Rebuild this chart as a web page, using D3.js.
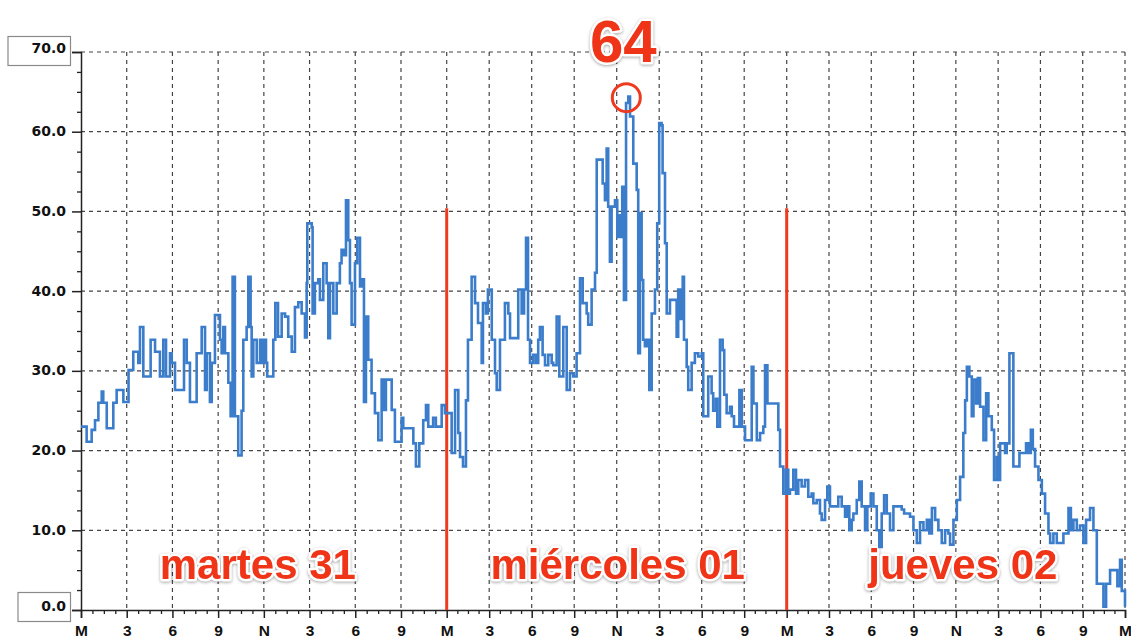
<!DOCTYPE html>
<html>
<head>
<meta charset="utf-8">
<script src="https://cdn.jsdelivr.net/npm/d3@7"></script>
<style>
  html, body { margin: 0; padding: 0; background: #fff; }
  svg { display: block; }
  .day-label, .peak-label {
    font-family: "Liberation Sans", Arial, sans-serif;
    font-weight: bold;
    fill: #ef3417;
    paint-order: stroke;
    stroke: #fff;
    stroke-width: 5px;
    stroke-linejoin: round;
    filter: drop-shadow(0px 1px 1.5px rgba(0, 0, 0, 0.35));
  }
</style>
</head>
<body>
<svg id="chart" width="1131" height="639"></svg>
<script>
// Hours since midnight of Tuesday 31
const hours = [
  0.0, 0.37, 0.70, 0.92, 1.14, 1.36, 1.46, 1.69, 1.90, 2.12, 2.34, 2.56, 2.78, 3.10, 3.12, 3.43, 3.76, 3.87,
  4.09, 4.31, 4.57, 4.86, 5.07, 5.18, 5.40, 5.58, 5.84, 5.95, 6.17, 6.50, 6.76, 6.94, 7.15, 7.37, 7.59, 7.92,
  8.14, 8.25, 8.46, 8.58, 8.79, 9.01, 9.12, 9.23, 9.34, 9.45, 9.67, 9.82, 9.95, 10.10, 10.32, 10.54, 10.65,
  10.87, 10.98, 11.13, 11.20, 11.31, 11.53, 11.75, 11.86, 12.01, 12.14, 12.22, 12.51, 12.62, 12.75, 12.93,
  13.17, 13.39, 13.60, 13.83, 14.04, 14.26, 14.48, 14.70, 14.81, 14.85, 15.14, 15.20, 15.35, 15.57, 15.68,
  15.90, 16.12, 16.23, 16.34, 16.56, 16.78, 16.99, 17.10, 17.26, 17.39, 17.54, 17.65, 17.76, 17.98, 18.13,
  18.31, 18.42, 18.57, 18.70, 18.85, 19.07, 19.29, 19.51, 19.73, 19.84, 20.01, 20.17, 20.39, 20.60, 20.89,
  21.04, 21.15, 21.70, 21.81, 21.98, 22.20, 22.46, 22.64, 22.79, 22.94, 23.11, 23.29, 23.44, 23.67, 23.88,
  24.23, 24.35, 24.59, 24.82, 24.94, 25.15, 25.36, 25.50, 25.76, 26.00, 26.21, 26.47, 26.56, 26.77, 26.91,
  27.18, 27.41, 27.53, 27.76, 28.11, 28.35, 28.47, 28.82, 29.05, 29.29, 29.46, 29.60, 29.74, 29.88, 30.11,
  30.30, 30.46, 30.58, 30.77, 30.94, 31.17, 31.41, 31.52, 31.76, 31.95, 32.23, 32.47, 32.70, 32.93, 33.17,
  33.41, 33.60, 33.88, 33.99, 34.23, 34.47, 34.59, 34.87, 35.01, 35.17, 35.29, 35.40, 35.52, 35.64, 35.88,
  36.04, 36.18, 36.28, 36.39, 36.51, 36.66, 36.82, 36.94, 37.17, 37.41, 37.52, 37.64, 37.76, 37.87, 37.99,
  38.16, 38.30, 38.47, 38.70, 38.86, 39.00, 39.17, 39.24, 39.41, 39.53, 39.76, 40.12, 40.23, 40.34, 40.51,
  40.66, 40.75, 40.94, 41.05, 41.29, 41.52, 41.76, 42.00, 42.11, 42.30, 42.46, 42.70, 42.81, 43.00, 43.10,
  43.29, 43.48, 43.59, 43.76, 44.00, 44.12, 44.28, 44.59, 44.66, 44.83, 45.06, 45.30, 45.53, 45.65, 45.89,
  46.12, 46.35, 46.47, 46.64, 47.18, 47.41, 47.53, 47.76, 47.95,
  48.11, 48.23, 48.47, 48.66, 48.82, 49.06, 49.30, 49.53, 49.77, 49.89, 50.13, 50.36, 50.48, 50.72, 50.88,
  51.07, 51.31, 51.66, 51.90, 52.14, 52.26, 52.44, 52.61, 52.73, 52.97, 53.15, 53.32, 53.56, 53.72, 53.96,
  54.15, 54.39, 54.57, 54.74, 54.91, 55.10, 55.33, 55.57, 55.92, 56.16, 56.33, 56.52, 56.75, 56.99, 57.23,
  57.46, 57.70, 57.94, 58.12, 58.30, 58.53, 58.76, 59.00, 59.24, 59.47, 59.59, 59.83, 60.07, 60.30, 60.53,
  60.66, 60.78, 60.96, 61.13, 61.25, 61.44, 61.56, 61.72, 61.96, 62.15, 62.31, 62.55, 62.71, 62.90, 63.02,
  63.14, 63.37, 63.49, 63.61, 63.80, 63.97, 64.08, 64.32, 64.51, 64.79, 64.98, 65.15, 65.32, 65.46, 65.62,
  65.86, 66.10, 66.33, 66.57, 66.69, 66.92, 67.16, 67.40, 67.63, 67.99, 68.16, 68.34, 68.58, 68.81, 69.05,
  69.24, 69.52, 69.76, 70.00, 70.28, 70.47, 70.66, 70.94, 71.29, 71.46, 71.65, 71.77, 72.00
];

// Readings at each of those hours
const values = [
  23.0, 21.1, 22.6, 23.8, 26.0, 27.4, 26.0, 22.8, 22.8, 26.0, 27.6, 27.6, 26.1, 26.1, 30.1, 32.4, 31.0, 35.5,
  29.3, 29.3, 33.9, 32.4, 32.4, 29.3, 33.9, 29.3, 32.2, 31.0, 27.6, 27.6, 33.9, 31.0, 26.1, 26.1, 32.2, 35.5,
  27.6, 32.2, 26.1, 31.0, 37.0, 37.0, 33.9, 32.2, 35.5, 32.2, 28.5, 24.3, 41.8, 24.3, 19.4, 25.0, 33.9,
  35.5, 41.8, 35.5, 29.3, 33.9, 31.0, 33.9, 31.0, 33.9, 31.0, 29.3, 29.3, 33.9, 38.5, 34.3,
  37.2, 36.8, 34.3, 32.4, 38.0, 38.6, 37.2, 34.2, 41.0, 48.5, 48.0, 37.2, 41.0, 41.5, 38.9,
  43.5, 41.0, 34.1, 41.0, 37.2, 41.0, 43.5, 45.2, 44.5, 51.4, 46.4, 41.0, 35.8, 43.5, 46.7,
  40.6, 41.5, 26.1, 36.8, 31.4, 27.2, 24.7, 21.3, 28.9, 25.1, 28.9, 28.9, 25.1, 21.1, 21.1,
  24.1, 22.8, 22.8, 20.9, 18.0, 20.9, 23.8, 25.7, 23.0, 23.0, 24.1, 23.0, 23.0, 25.7, 24.7,
  24.7, 19.7, 27.6, 22.2, 19.2, 18.0, 26.3, 33.9, 41.8, 38.5, 36.0, 31.0, 38.5, 37.2, 40.2,
  33.9, 29.7, 27.6, 33.9, 38.5, 37.2, 34.1, 34.1, 40.2, 37.2, 40.2, 46.7, 33.9, 31.0, 32.0,
  31.0, 33.9, 35.5, 32.0, 30.7, 32.0, 31.0, 30.7, 36.8, 29.3, 35.5, 27.6, 29.7, 29.3, 32.2,
  41.6, 38.5, 37.2, 35.8, 40.2, 42.3, 56.5, 56.5, 53.5, 51.4, 57.9, 50.6, 43.7, 50.6, 51.4,
  46.8, 49.5, 46.8, 53.1, 38.9, 63.6, 64.4, 61.9, 56.0, 52.7, 32.2, 49.8, 41.4, 33.9, 33.1,
  33.9, 27.6, 37.2, 40.2, 48.5, 61.1, 60.8, 54.8, 46.0, 37.2, 38.9, 38.9, 34.3, 40.2, 36.5,
  41.8, 33.9, 30.5, 27.6, 31.0, 32.2, 31.8, 32.2, 24.3, 24.3, 29.3, 27.2, 25.0, 26.5, 23.0,
  33.9, 32.6, 27.0, 24.7, 25.5, 24.3, 23.0, 23.0, 27.6, 23.0, 21.3, 21.3, 30.5, 25.9, 21.3,
  22.2, 23.0, 30.7, 25.9, 25.9, 22.6, 18.0, 14.6, 17.6,
  14.6, 15.1, 17.6, 14.6, 16.3, 15.5, 16.3, 14.2, 14.6, 13.4, 13.8, 12.1, 11.3, 13.8, 15.5,
  13.0, 13.0, 14.2, 13.0, 11.7, 13.0, 10.0, 11.3, 12.1, 13.8, 16.1, 13.0, 10.0, 13.0, 14.6,
  13.0, 10.0, 7.9, 12.1, 14.4, 12.1, 10.0, 13.0, 13.0, 12.6, 12.1, 12.1, 11.7, 10.0, 8.4,
  11.0, 10.0, 11.3, 9.6, 12.8, 11.3, 10.0, 8.4, 10.0, 9.6, 8.2, 11.3, 13.8, 16.7, 22.2,
  26.3, 30.5, 29.3, 24.3, 28.9, 25.9, 29.1, 25.5, 21.3, 27.2, 24.3, 22.6, 16.3, 19.2, 16.3,
  20.9, 20.9, 19.7, 20.9, 32.2, 32.2, 18.0, 18.0, 19.7, 19.7, 20.9, 19.7, 22.6, 20.2, 18.0,
  16.3, 14.6, 12.1, 9.6, 8.4, 9.6, 8.4, 8.4, 9.6, 12.8, 10.0, 11.3, 10.0, 10.6, 8.4,
  11.3, 12.8, 10.0, 3.3, 3.3, 0.4, 3.3, 5.0, 5.0, 3.0, 6.3, 2.4, 0.4
];

const dayBreaks = [24, 48];                       // midnight of Wednesday and Thursday
const dayLabels = ["martes 31", "miércoles 01", "jueves 02"];
const hourLabels = ["M", "3", "6", "9", "N", "3", "6", "9"];
const yTicks = [0, 10, 20, 30, 40, 50, 60, 70];
const peakText = "64";

const data = hours.map((h, i) => ({ h: h, v: values[i] }));

const svg = d3.select("#chart");

// The first day of the source picture is drawn a little wider than the others
const x = d3.scaleLinear().domain([0, 24, 48, 72]).range([81, 446.7, 786.7, 1125]);
const y = d3.scaleLinear().domain([0, 70]).range([610, 52]);

const majorX = d3.range(0, 73, 3);
const minorX = d3.range(0, 72.01, 0.75).filter((h) => h % 3 !== 0);
const minorY = d3.range(0, 70.01, 2.5).filter((v) => v % 10 !== 0);

// Dashed grid, including the top and right edges
const grid = svg.append("g")
  .attr("stroke", "#454545")
  .attr("stroke-width", 1.2)
  .attr("stroke-dasharray", "4,4");

grid.selectAll("line.h")
  .data(yTicks.filter((v) => v > 0))
  .enter()
  .append("line")
  .attr("x1", x(0))
  .attr("x2", x(72))
  .attr("y1", (v) => y(v))
  .attr("y2", (v) => y(v));

grid.selectAll("line.v")
  .data(majorX.filter((h) => h > 0))
  .enter()
  .append("line")
  .attr("x1", (h) => x(h))
  .attr("x2", (h) => x(h))
  .attr("y1", y(70))
  .attr("y2", y(0));

// Axes
const axisFont = (g) => g.selectAll("text")
  .attr("font-family", "'DejaVu Sans', Verdana, sans-serif")
  .attr("font-weight", "bold")
  .attr("fill", "#111");

const yAxis = svg.append("g")
  .attr("transform", `translate(${x(0)},0)`)
  .call(d3.axisLeft(y).tickValues(yTicks).tickSize(9).tickPadding(6).tickFormat(d3.format(".1f")))
  .call((g) => g.select(".domain").attr("stroke", "#222").attr("stroke-width", 1.5))
  .call((g) => g.selectAll(".tick line").attr("stroke", "#222").attr("stroke-width", 1.5))
  .call(axisFont)
  .call((g) => g.selectAll("text").attr("font-size", 14).attr("dy", "0.28em"));

svg.append("g")
  .attr("transform", `translate(${x(0)},0)`)
  .call(d3.axisLeft(y).tickValues(minorY).tickSize(4).tickFormat(""))
  .call((g) => g.select(".domain").remove())
  .call((g) => g.selectAll(".tick line").attr("stroke", "#222").attr("stroke-width", 1.3));

// The end labels sit in little boxes
yAxis.selectAll(".tick")
  .filter((v) => v === 70 || v === 0)
  .each(function (v) {
    const tick = d3.select(this);
    tick.select("text").attr("dy", v === 70 ? "0.05em" : "0em");
    tick.insert("rect", "text")
      .attr("x", v === 70 ? -73 : -63)
      .attr("y", v === 70 ? -16 : -18)
      .attr("width", v === 70 ? 62.5 : 52.5)
      .attr("height", 29)
      .attr("fill", "#fff")
      .attr("stroke", "#8a8a8a")
      .attr("stroke-width", 1.2);
  });

svg.append("g")
  .attr("transform", `translate(0,${y(0)})`)
  .call(d3.axisBottom(x).tickValues(majorX).tickSize(8).tickPadding(7)
    .tickFormat((h, i) => hourLabels[i % hourLabels.length]))
  .call((g) => g.select(".domain").attr("stroke", "#222").attr("stroke-width", 1.5))
  .call((g) => g.selectAll(".tick line").attr("stroke", "#222").attr("stroke-width", 1.5))
  .call(axisFont)
  .call((g) => g.selectAll("text")
    .attr("font-family", "'Liberation Sans', Arial, sans-serif")
    .attr("font-size", 15.5));

svg.append("g")
  .attr("transform", `translate(0,${y(0)})`)
  .call(d3.axisBottom(x).tickValues(minorX).tickSize(4).tickFormat(""))
  .call((g) => g.select(".domain").remove())
  .call((g) => g.selectAll(".tick line").attr("stroke", "#222").attr("stroke-width", 1.3));

// Day labels, placed round each midday
const labelNudge = [-6, 1, 7];
svg.selectAll("text.day-label")
  .data(dayLabels)
  .enter()
  .append("text")
  .attr("class", "day-label")
  .attr("x", (d, i) => x(i * 24 + 12) + labelNudge[i])
  .attr("y", 579)
  .attr("text-anchor", "middle")
  .attr("font-size", 42)
  .text((d) => d);

// Red lines at midnight
svg.selectAll("line.midnight")
  .data(dayBreaks)
  .enter()
  .append("line")
  .attr("x1", (h) => x(h))
  .attr("x2", (h) => x(h))
  .attr("y1", y(50.4))
  .attr("y2", y(0))
  .attr("stroke", "#ee3a1f")
  .attr("stroke-width", 3);

// The series itself
const line = d3.line()
  .x((d) => x(d.h))
  .y((d) => y(d.v))
  .curve(d3.curveStepAfter);

svg.append("path")
  .datum(data)
  .attr("fill", "none")
  .attr("stroke", "#3b7dcb")
  .attr("stroke-width", 2.6)
  .attr("stroke-linejoin", "miter")
  .attr("d", line);

// Mark the maximum
const peak = data.reduce((a, b) => (b.v > a.v ? b : a));

svg.append("circle")
  .attr("cx", x(peak.h) - 2)
  .attr("cy", y(peak.v) + 1)
  .attr("r", 14)
  .attr("fill", "none")
  .attr("stroke", "#ee3a1f")
  .attr("stroke-width", 3);

svg.append("text")
  .attr("class", "peak-label")
  .attr("x", x(peak.h) - 5)
  .attr("y", 62)
  .attr("text-anchor", "middle")
  .attr("font-size", 60)
  .text(peakText);
</script>
</body>
</html>
